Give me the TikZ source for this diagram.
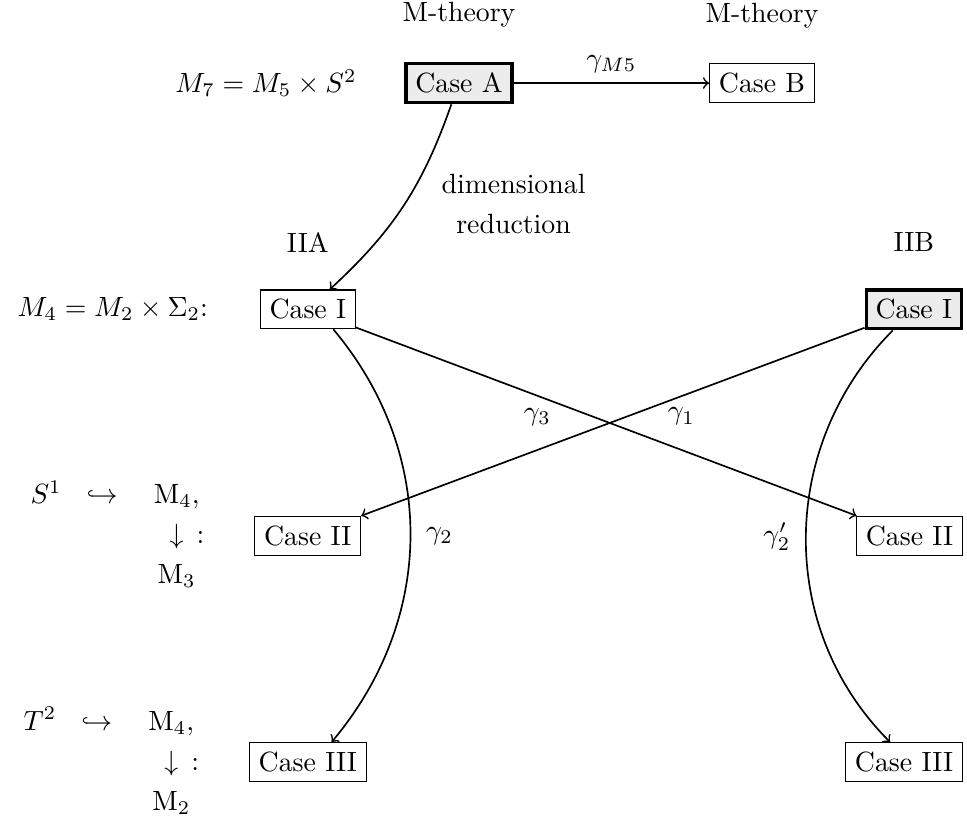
\documentclass[tikz,border=0pt]{standalone}
\usepackage{amsmath,amssymb}
\usepackage{tikz}
\usetikzlibrary{positioning}
\linespread{1.2}

\begin{document}
\begin{tikzpicture}[
box/.style={draw},
hbox/.style={draw,very thick,fill=gray!15},
arr/.style={->,semithick}
]
\useasboundingbox (-5.80,1.05) rectangle (6.42,-9.38);
\node[hbox] (caseA) at (0,0) {Case A};
\node[box] (caseB) at (3.83,0) {Case B};
\node[box] (iiaI) at (-1.91,-2.86) {Case I};
\node[hbox,anchor=east] (iibI) at (6.37,-2.86) {Case I};
\node[box] (iiaII) at (-1.91,-5.72) {Case II};
\node[box,anchor=east] (iibII) at (6.37,-5.72) {Case II};
\node[box] (iiaIII) at (-1.91,-8.58) {Case III};
\node[box,anchor=east] (iibIII) at (6.37,-8.58) {Case III};
% theory labels
\node[above=3.2mm of caseA] (mthA) {M-theory};
\node[above=3.2mm of caseB] (mthB) {M-theory};
\node[above=3.4mm of iiaI] (iia) {IIA};
\node[above=3.4mm of iibI] (iib) {IIB};
% geometries
\node[left=4.8mm of caseA] (m7) {$M_7 = M_5\times S^2$};
\node[left=5.3mm of iiaI] (m4) {$M_4 = M_2\times\Sigma_2$:};
\node[left=3.3mm of iiaII] (fibS) {$\begin{array}{c@{\hspace{9pt}}c@{\hspace{13pt}}c@{\hspace{-1pt}}c}
 S^1 & \hookrightarrow & \mathrm{M}_4, & \\
 & & \downarrow & : \\
 & & \mathrm{M}_3 &
\end{array}$};
\node[left=3.3mm of iiaIII] (fibT) {$\begin{array}{c@{\hspace{9pt}}c@{\hspace{13pt}}c@{\hspace{-1pt}}c}
 T^2 & \hookrightarrow & \mathrm{M}_4, & \\
 & & \downarrow & : \\
 & & \mathrm{M}_2 &
\end{array}$};
% maps
\draw[arr] (caseA) -- node[above] {$\gamma_{M5}$} (caseB);
\draw[arr] (caseA) to[bend left=14] node[midway,right=10pt,yshift=0.5pt,align=center] {dimensional\\reduction} (iiaI);
\draw[arr] (iiaI) -- node[pos=0.65,above=5.2pt] {$\gamma_1$} (iibII);
\draw[arr] (iibI) -- node[pos=0.65,above=5.2pt] {$\gamma_3$} (iiaII);
\draw[arr] (iiaI.-38) to[out=-50,in=50] node[right=2pt] {$\gamma_2$} (iiaIII.40);
\draw[arr] (iibI.-135) to[out=-135,in=135] node[left=2pt] {$\gamma_2'$} (iibIII.125);
\end{tikzpicture}
\end{document}
